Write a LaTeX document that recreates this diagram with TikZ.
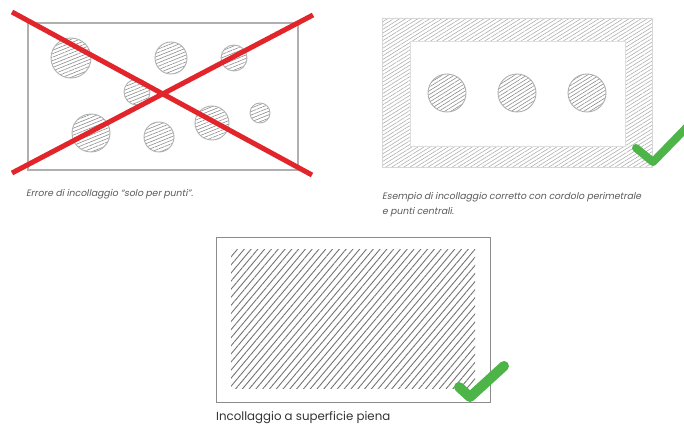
\documentclass[tikz,border=0pt]{standalone}
\usepackage{fontspec}
\setmainfont{Poppins}
\newfontfamily\capit[FakeSlant=0.2]{Poppins}
\usetikzlibrary{patterns.meta}
\definecolor{xred}{HTML}{E2242B}
\definecolor{okgreen}{HTML}{4DB448}
\definecolor{rimgray}{HTML}{B0B0B0}
\definecolor{hatchgray}{HTML}{8C8C8C}
\definecolor{txtgray}{HTML}{5A5A5A}
\tikzset{
  dot/.style={draw=rimgray, line width=0.9pt, pattern={Lines[angle=22,distance=3.2pt,line width=0.6pt]}, pattern color=hatchgray},
  dotb/.style={draw=rimgray, line width=0.9pt, pattern={Lines[angle=32,distance=3.2pt,line width=0.6pt]}, pattern color=hatchgray},
  crossline/.style={draw=xred, line width=5pt},
  tick/.style={draw=okgreen, line width=8pt, line cap=round, line join=round},
  capsmall/.style={anchor=west, inner sep=0pt, text=txtgray, font=\capit\fontsize{9.3}{11}\selectfont},
  capbig/.style={anchor=west, inner sep=0pt, text=black!80, font=\fontsize{11.8}{13}\selectfont}
}
\begin{document}
\begin{tikzpicture}[x=1pt,y=-1pt]
\useasboundingbox (0,0) rectangle (684,427);
% ---------- panel 1 ----------
\draw[rimgray, line width=1.3pt] (28,23) rectangle (298,170);
\path[dot] (71,58) circle (20);
\path[dot] (171,58) circle (16);
\path[dot] (234,58) circle (13);
\path[dot] (137,92) circle (13);
\path[dot] (91,133) circle (19);
\path[dot] (159,137) circle (15);
\path[dot] (212,123) circle (17);
\path[dot] (260,113) circle (10);
\draw[crossline] (12,12) -- (312,175);
\draw[crossline] (12,173) -- (313,15);
\node[capsmall] (cap1) at (26,194) {Errore di incollaggio “solo per punti”.};
% ---------- panel 2 ----------
\path[even odd rule, pattern={Lines[angle=32,distance=3.2pt,line width=0.6pt]}, pattern color=hatchgray!70]
  (382,18) rectangle (652,167) (410,41) rectangle (625,146);
\draw[rimgray!50, line width=0.5pt] (382,18) rectangle (652,167);
\draw[rimgray!40, line width=0.5pt] (410,41) rectangle (625,146);
\path[dotb] (447,93) circle (19);
\path[dotb] (517,93) circle (19);
\path[dotb] (587,93) circle (19);
\draw[tick] (636,148) -- (653,162) -- (690,124);
\node[capsmall] (cap2a) at (382,197) {Esempio di incollaggio corretto con cordolo perimetrale};
\node[capsmall] (cap2b) at (382,212) {e punti centrali.};
% ---------- panel 3 ----------
\draw[black!45, line width=0.9pt] (216,237) rectangle (490,402);
\path[pattern={Lines[angle=50,distance=5.2pt,line width=0.9pt]}, pattern color=black!55] (231,250) rectangle (475,388);
\draw[tick, line width=10pt] (459,387) -- (470,397) -- (504,366);
\node[capbig] (cap3) at (216,418) {Incollaggio a superficie piena};
\end{tikzpicture}
\end{document}
